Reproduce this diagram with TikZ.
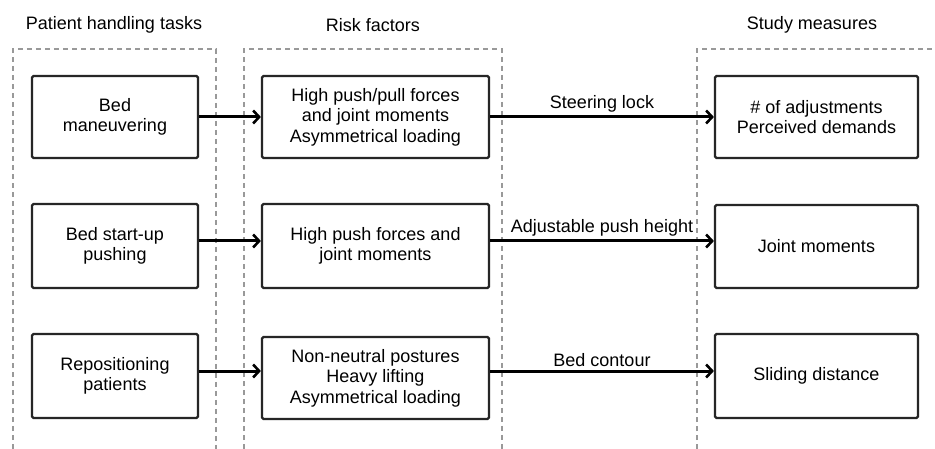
\documentclass[tikz,border=0pt]{standalone}
\usepackage{fontspec}
\setmainfont{Liberation Sans}
\usetikzlibrary{arrows.meta}
\begin{document}
\begin{tikzpicture}[x=1pt,y=-1pt,
  every node/.style={font=\fontsize{18}{20.5}\selectfont, text=black},
  box/.style={draw=black!85, line width=2.2pt, rounded corners=1.5pt, align=center, inner sep=0pt},
  grp/.style={draw=black!40, line width=1.5pt, dash pattern=on 5pt off 4pt},
  arr/.style={draw=black, line width=3pt, -{Straight Barb[length=6pt,width=13pt,line width=2.6pt]}},
  lbl/.style={above, inner sep=3pt}]
\useasboundingbox[fill=white] (0,0) rectangle (935,449);
% group frames
\draw[grp] (13,449) -- (13,49) -- (216,49) -- (216,449);
\draw[grp] (244,449) -- (244,49) -- (502,49) -- (502,449);
\draw[grp] (697,449) -- (697,49) -- (936,49);
% headers
\node (h1) at (114,25) {Patient handling tasks};
\node (h2) at (373,25) {Risk factors};
\node (h3) at (812,25) {Study measures};
% tasks
\node[box, minimum width=166, minimum height=82] (t1) at (115,117) {Bed\\maneuvering};
\node[box, minimum width=166, minimum height=84] (t2) at (115,246) {Bed start-up\\pushing};
\node[box, minimum width=166, minimum height=84] (t3) at (115,376) {Repositioning\\patients};
% risk factors
\node[box, minimum width=227, minimum height=82] (r1) at (375.5,117) {High push/pull forces\\and joint moments\\Asymmetrical loading};
\node[box, minimum width=227, minimum height=84] (r2) at (375.5,246) {High push forces and\\joint moments};
\node[box, minimum width=227, minimum height=82] (r3) at (375.5,378) {Non-neutral postures\\Heavy lifting\\Asymmetrical loading};
% study measures
\node[box, minimum width=203, minimum height=82] (s1) at (816.5,117) {\# of adjustments\\Perceived demands};
\node[box, minimum width=203, minimum height=83] (s2) at (816.5,246.5) {Joint moments};
\node[box, minimum width=203, minimum height=84] (s3) at (816.5,376) {Sliding distance};
% arrows
\draw[arr] (t1.east) -- (t1.east -| r1.west);
\draw[arr] ([yshift=5pt]t2.east) -- ([yshift=5pt]t2.east -| r2.west);
\draw[arr] ([yshift=5pt]t3.east) -- ([yshift=5pt]t3.east -| r3.west);
\draw[arr] (r1.east) -- node[lbl] {Steering lock} (r1.east -| s1.west);
\draw[arr] ([yshift=5pt]r2.east) -- node[lbl] {Adjustable push height} ([yshift=5pt]r2.east -| s2.west);
\draw[arr] ([yshift=7pt]r3.east) -- node[lbl] {Bed contour} ([yshift=7pt]r3.east -| s3.west);
\end{tikzpicture}
\end{document}
